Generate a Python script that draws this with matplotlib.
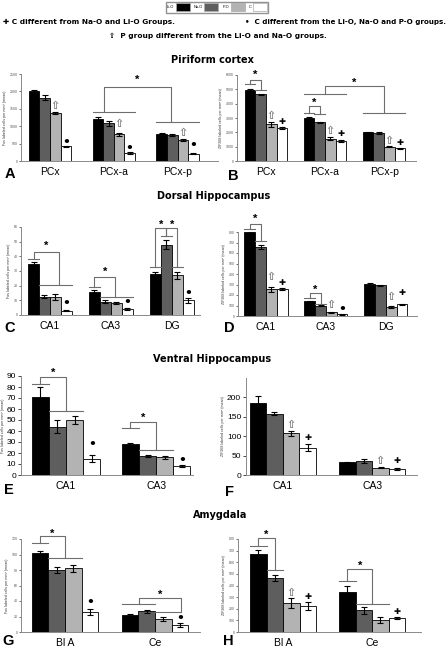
import matplotlib
matplotlib.use("Agg")
import matplotlib.pyplot as plt
from matplotlib.patches import Patch

plt.rcParams["font.family"] = ["Liberation Sans", "DejaVu Sans"]

W, H = 448, 649

groups = ["Li-O", "Na-O", "P-O", "C"]
colors = ["#000000", "#5e5e5e", "#b3b3b3", "#ffffff"]

# values: one row per category, columns Li-O, Na-O, P-O, C
a_cats = ["PCx", "PCx-a", "PCx-p"]
a_vals = [[2000, 1820, 1380, 420], [1200, 1080, 770, 230], [790, 750, 600, 210]]
a_errs = [[50, 80, 40, 20], [60, 70, 40, 15], [25, 25, 30, 15]]

b_cats = ["PCx", "PCx-a", "PCx-p"]
b_vals = [[4950, 4650, 2550, 2300], [3000, 2700, 1550, 1400], [2000, 1950, 1000, 900]]
b_errs = [[60, 50, 150, 50], [50, 50, 100, 50], [40, 40, 40, 30]]

c_cats = ["CA1", "CA3", "DG"]
c_vals = [[35, 12.5, 12.5, 3], [16, 9, 8, 4], [28, 48, 27, 10]]
c_errs = [[1, 1, 2, 0.5], [1, 1, 0.7, 0.5], [1.5, 3, 2.5, 1.5]]

d_cats = ["CA1", "CA3", "DG"]
d_vals = [[800, 655, 255, 255], [140, 100, 35, 15], [305, 295, 85, 110]]
d_errs = [[10, 20, 25, 10], [5, 5, 3, 2], [8, 5, 10, 4]]

e_cats = ["CA1", "CA3"]
e_vals = [[71, 44, 50, 15], [28, 17, 16, 8]]
e_errs = [[9, 6, 3.5, 3], [1.5, 1, 1, 1]]

f_cats = ["CA1", "CA3"]
f_vals = [[185, 158, 107, 70], [33, 36, 19, 15]]
f_errs = [[18, 4, 7, 9], [1, 4, 1, 3]]

g_cats = ["Bl A", "Ce"]
g_vals = [[102, 80, 82, 26], [22, 27, 17, 9]]
g_errs = [[2, 4, 5, 4], [1, 2, 3, 2]]

h_cats = ["Bl A", "Ce"]
h_vals = [[670, 465, 250, 225], [340, 185, 105, 120]]
h_errs = [[35, 25, 40, 35], [60, 30, 25, 10]]

FOS = "Fos labeled cells per mm\u00b2 (mean)"
ZIF = "ZIF268 labeled cells per mm\u00b2 (mean)"
LINE = "#6e6e6e"
UP, CROSS, DOT = "\u21e7", "\u271a", "\u2022"

fig = plt.figure(figsize=(W / 100, H / 100), dpi=100)


def box(x0, y0, x1, y1):
    return [x0 / W, 1 - y1 / H, (x1 - x0) / W, (y1 - y0) / H]


def bar_x(i, k, w):
    return i + (k - 1.5) * w


def panel(rect, cats, vals, errs, ylim, step, xlim, w, ylabel,
          big=False, ytop=None):
    ax = fig.add_axes(box(*rect))
    for k in range(4):
        ax.bar([bar_x(i, k, w) for i in range(len(cats))],
               [v[k] for v in vals], w,
               yerr=[e[k] for e in errs], color=colors[k],
               edgecolor="black", linewidth=0.6,
               error_kw=dict(ecolor="black", elinewidth=0.8,
                             capsize=2, capthick=0.8))
    ax.set_xlim(*xlim)
    ax.set_ylim(*ylim)
    top = ylim[1] if ytop is None else ytop
    ax.set_yticks(range(0, int(top) + 1, step))
    ax.set_xticks(range(len(cats)))
    ax.set_xticklabels(cats, fontsize=7.5)
    ax.tick_params(axis="x", length=0, pad=4)
    if big:
        ax.tick_params(axis="y", labelsize=6, length=2, width=0.5, pad=1.5)
    else:
        ax.tick_params(axis="y", labelsize=2.5, length=1.5, width=0.4,
                       pad=1, labelcolor="#555555")
    for s in ("top", "right"):
        ax.spines[s].set_visible(False)
    for s in ("left", "bottom"):
        ax.spines[s].set_color("#8a8a8a")
        ax.spines[s].set_linewidth(0.7)
    ax.set_ylabel(ylabel, fontsize=2.6, labelpad=1.5, color="#333333")
    ax.w = w
    return ax


def span(ax, i, k0, k1, y):
    w = ax.w
    ax.plot([bar_x(i, k0, w) - w / 2, bar_x(i, k1, w) + w / 2], [y, y],
            color=LINE, lw=0.8, clip_on=False)


def bracket(ax, x0, y0, x1, y1, top, star):
    ax.plot([x0, x0, x1, x1], [y0, top, top, y1], color=LINE, lw=0.8,
            clip_on=False)
    ax.text((x0 + x1) / 2, star, "*", ha="center", va="center",
            fontsize=8, fontweight="bold", clip_on=False)


def mark(ax, i, k, y, sym):
    style = {UP: dict(fontsize=8, color="#7a7a7a"),
             CROSS: dict(fontsize=6, color="black"),
             DOT: dict(fontsize=9, color="black")}[sym]
    ax.text(bar_x(i, k, ax.w), y, sym, ha="center", va="center",
            family="DejaVu Sans", fontweight="bold", **style)


# ---- A
axA = panel((21, 74, 218, 161), a_cats, a_vals, a_errs, (0, 2500), 500,
            (-0.455, 2.635), 0.165, FOS)
span(axA, 1, 0, 3, 1420)
span(axA, 2, 0, 3, 1115)
bracket(axA, 0.85, 1420, 1.9, 1115, 2140, 2320)
for i, (yu, yd) in enumerate([(1590, 545), (1063, 345), (805, 440)]):
    mark(axA, i, 2, yu, UP)
    mark(axA, i, 3, yd, DOT)

# ---- B
axB = panel((237, 75, 416, 161), b_cats, b_vals, b_errs, (0, 6000), 1000,
            (-0.49, 2.54), 0.18, ZIF)
w = axB.w
span(axB, 0, 0, 0, 5400)
span(axB, 0, 1, 1, 4980)
bracket(axB, bar_x(0, 0, w), 5400, bar_x(0, 1, w), 4980, 5670, 6000)
span(axB, 1, 0, 0, 3380)
span(axB, 1, 1, 1, 3250)
bracket(axB, bar_x(1, 0, w), 3380, bar_x(1, 1, w), 3250, 3850, 4080)
span(axB, 1, 0, 3, 4650)
span(axB, 2, 0, 3, 3330)
bracket(axB, 1.0, 4650, 2.0, 3330, 5230, 5450)
for i, (yu, yc) in enumerate([(3125, 2730), (2100, 1940), (1410, 1320)]):
    mark(axB, i, 2, yu, UP)
    mark(axB, i, 3, yc, CROSS)

# ---- C
axC = panel((21, 227, 200, 315), c_cats, c_vals, c_errs, (0, 60), 10,
            (-0.475, 2.46), 0.18, FOS)
w = axC.w
span(axC, 0, 0, 0, 38)
span(axC, 0, 1, 3, 20.5)
bracket(axC, bar_x(0, 0, w), 38, 0.15, 20.5, 43, 47)
span(axC, 1, 0, 0, 19)
span(axC, 1, 1, 3, 12.5)
bracket(axC, bar_x(1, 0, w), 19, 1.07, 12.5, 26, 29.5)
span(axC, 2, 0, 0, 33)
span(axC, 2, 2, 2, 33)
bracket(axC, bar_x(2, 0, w), 33, bar_x(2, 1, w), 54, 59.5, 61.5)
bracket(axC, bar_x(2, 1, w), 54, bar_x(2, 2, w), 33, 59.5, 61.5)
span(axC, 2, 1, 1, 54)
for i, yd in enumerate([7.5, 8.5, 15]):
    mark(axC, i, 3, yd, DOT)

# ---- D
axD = panel((238, 232, 417, 316), d_cats, d_vals, d_errs, (0, 800), 100,
            (-0.467, 2.52), 0.18, ZIF)
w = axD.w
span(axD, 0, 0, 0, 830)
span(axD, 0, 1, 1, 710)
bracket(axD, bar_x(0, 0, w), 830, bar_x(0, 1, w), 710, 875, 930)
span(axD, 1, 0, 0, 170)
span(axD, 1, 1, 1, 118)
bracket(axD, bar_x(1, 0, w), 170, bar_x(1, 1, w), 118, 218, 245)
for i, yu in enumerate([370, 100, 180]):
    mark(axD, i, 2, yu, UP)
mark(axD, 0, 3, 317, CROSS)
mark(axD, 1, 3, 60, DOT)
mark(axD, 2, 3, 220, CROSS)

# ---- E
axE = panel((21, 376, 193, 475), e_cats, e_vals, e_errs, (0, 90), 10,
            (-0.5, 1.41), 0.19, FOS, big=True)
w = axE.w
span(axE, 0, 0, 0, 83)
span(axE, 0, 1, 2, 58)
bracket(axE, bar_x(0, 0, w), 83, 0.0, 58, 89.5, 93)
span(axE, 1, 0, 0, 42.5)
span(axE, 1, 1, 2, 22.5)
bracket(axE, bar_x(1, 0, w), 42.5, 1.0, 22.5, 48, 52)
mark(axE, 0, 3, 28, DOT)
mark(axE, 1, 3, 13, DOT)

# ---- F
axF = panel((246, 378, 417, 475), f_cats, f_vals, f_errs, (0, 250), 50,
            (-0.41, 1.5), 0.185, ZIF, big=True, ytop=200)
for i, (yu, yc) in enumerate([(129, 97), (36, 38)]):
    mark(axF, i, 2, yu, UP)
    mark(axF, i, 3, yc, CROSS)

# ---- G
axG = panel((21, 539, 200, 632), g_cats, g_vals, g_errs, (0, 120), 20,
            (-0.49, 1.5), 0.185, FOS)
w = axG.w
span(axG, 0, 0, 0, 115)
span(axG, 0, 1, 2, 95.6)
bracket(axG, bar_x(0, 0, w), 115, 0.0, 95.6, 124, 127)
span(axG, 1, 0, 1, 36)
axG.plot([bar_x(1, 2, w) - w / 2, bar_x(1, 3, w)], [25.5, 25.5],
         color=LINE, lw=0.8)
bracket(axG, 0.82, 36, 1.29, 25.5, 44, 48)
mark(axG, 0, 3, 38.6, DOT)
mark(axG, 1, 3, 18, DOT)

# ---- H
axH = panel((238, 539, 421, 632), h_cats, h_vals, h_errs, (0, 800), 100,
            (-0.506, 1.55), 0.185, ZIF)
w = axH.w
span(axH, 0, 0, 0, 740)
span(axH, 0, 1, 1, 530)
bracket(axH, bar_x(0, 0, w), 740, bar_x(0, 1, w), 530, 811, 835)
span(axH, 1, 0, 0, 440)
span(axH, 1, 1, 2, 240)
bracket(axH, bar_x(1, 0, w), 440, 1.0, 240, 540, 565)
mark(axH, 0, 2, 335, UP)
mark(axH, 0, 3, 305, CROSS)
mark(axH, 1, 3, 180, CROSS)


def ftext(x, y, s, **kw):
    fig.text(x / W, 1 - y / H, s, **kw)


# panel letters
for letter, (x, y) in zip("ABCDEFGH", [(10, 174), (233, 176), (10, 328),
                                       (229, 328), (9, 490), (229, 492),
                                       (8, 641), (228, 641)]):
    ftext(x, y, letter, ha="center", va="center", fontsize=10.5,
          fontweight="bold")

# section titles
for title, (x, y) in zip(["Piriform cortex", "Dorsal Hippocampus",
                          "Ventral Hippocampus", "Amygdala"],
                         [(212, 60), (214, 196), (212, 359), (220, 515)]):
    ftext(x, y, title, ha="center", va="center", fontsize=7,
          fontweight="bold", family="DejaVu Sans")

# notes
note_kw = dict(va="center", fontsize=5.3, fontweight="bold", family="DejaVu Sans")
ftext(3, 22, CROSS + " C different from Na-O and Li-O Groups.", ha="left", **note_kw)
ftext(446, 22, DOT + "  C different from the Li-O, Na-O and P-O groups.",
      ha="right", fontsize=5.1, va="center", fontweight="bold",
      family="DejaVu Sans")
ftext(218, 36, UP + "  P group different from the Li-O and Na-O groups.",
      ha="center", **note_kw)

# legend
handles = [Patch(facecolor=c, edgecolor="#aaaaaa", linewidth=0.5, label=g)
           for g, c in zip(groups, colors)]
fig.legend(handles=handles, loc="upper center", bbox_to_anchor=(217 / W, 1.0),
           ncol=4, markerfirst=False, fontsize=2.8, handlelength=3.6,
           handleheight=2.6, handletextpad=0.4, columnspacing=1.0,
           borderpad=0.4, frameon=True, fancybox=False, edgecolor="#777777")

fig.savefig("out.png", dpi=100)
